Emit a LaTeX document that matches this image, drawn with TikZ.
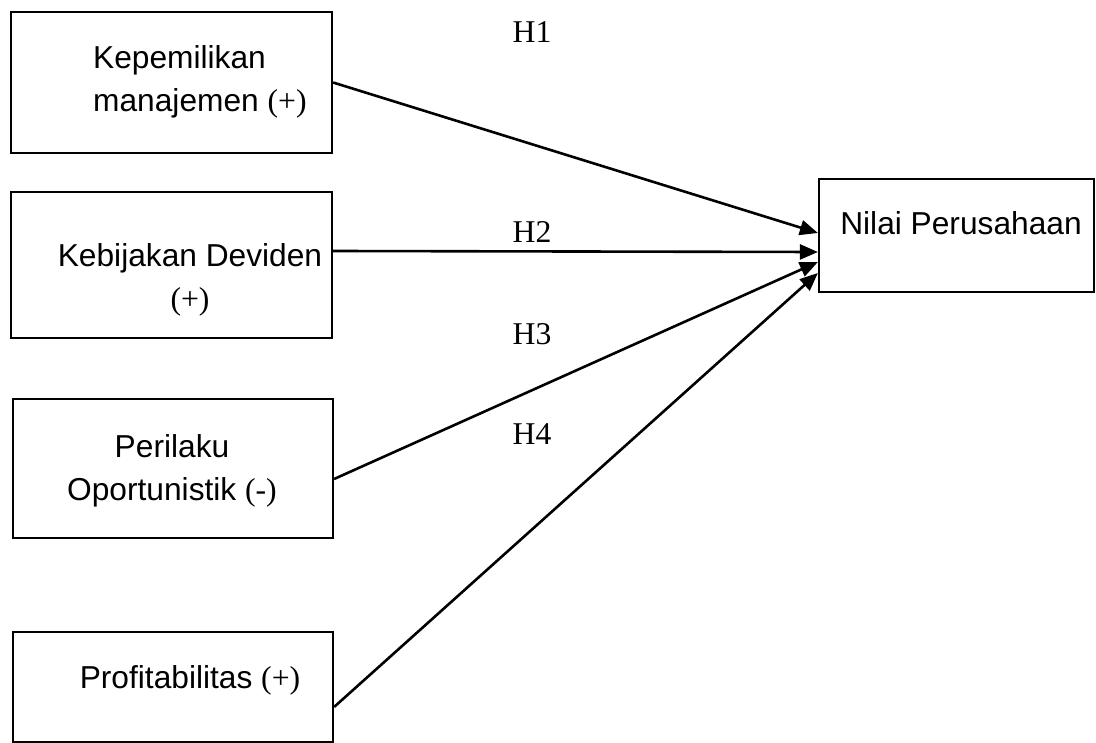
\documentclass[tikz,border=0pt]{standalone}
\usepackage{fontspec}
\setmainfont{Liberation Sans}
\newfontfamily\tnr{Liberation Serif}
\usetikzlibrary{arrows.meta}
\begin{document}
\begin{tikzpicture}[x=1pt,y=-1pt,
  box/.style={draw=black,line width=2.2pt,rectangle,inner sep=0pt},
  lbl/.style={inner sep=0pt,font=\fontsize{31.7}{43}\selectfont},
  hyp/.style={inner sep=0pt,font=\fontsize{31.7}{43}\selectfont\tnr},
  link/.style={line width=2.6pt,-{Triangle[length=18pt,width=15pt]}}]
\useasboundingbox (0,0) rectangle (1096,743);
% boxes
\node[box,minimum width=321pt,minimum height=141pt] (b1) at (171.5,82.5) {};
\node[box,minimum width=321pt,minimum height=146pt] (b2) at (171.5,265) {};
\node[box,minimum width=320pt,minimum height=139pt] (b3) at (173,468.5) {};
\node[box,minimum width=320pt,minimum height=110pt] (b4) at (173,687) {};
\node[box,minimum width=275pt,minimum height=113pt] (nv) at (956.5,235.5) {};
% texts
\node[lbl,anchor=west,align=left] (t1) at (93,82) {Kepemilikan\\manajemen {\tnr (+)}};
\node[lbl,align=center] (t2) at (190,279.5) {Kebijakan Deviden\\{\tnr (+)}};
\node[lbl,align=center] (t3) at (172,470.5) {Perilaku\\Oportunistik {\tnr (-)}};
\node[lbl,anchor=base] (t4) at (190,688) {Profitabilitas {\tnr (+)}};
\node[lbl,anchor=base] (t5) at (961,235) {Nilai Perusahaan};
% hypotheses
\node[hyp,anchor=base] (h1) at (532,43) {H1};
\node[hyp,anchor=base] (h2) at (532,243) {H2};
\node[hyp,anchor=base] (h3) at (532,345) {H3};
\node[hyp,anchor=base] (h4) at (532,445) {H4};
% connectors
\draw[link] (b1.east) -- ([yshift=2.5pt]nv.west);
\draw[link] ([yshift=14pt]b2.east) -- ([yshift=-16.5pt]nv.west);
\draw[link] ([yshift=-10.5pt]b3.east) -- ([yshift=-26.5pt]nv.west);
\draw[link] ([yshift=-20pt]b4.east) -- ([yshift=-37.5pt]nv.west);
\end{tikzpicture}
\end{document}
